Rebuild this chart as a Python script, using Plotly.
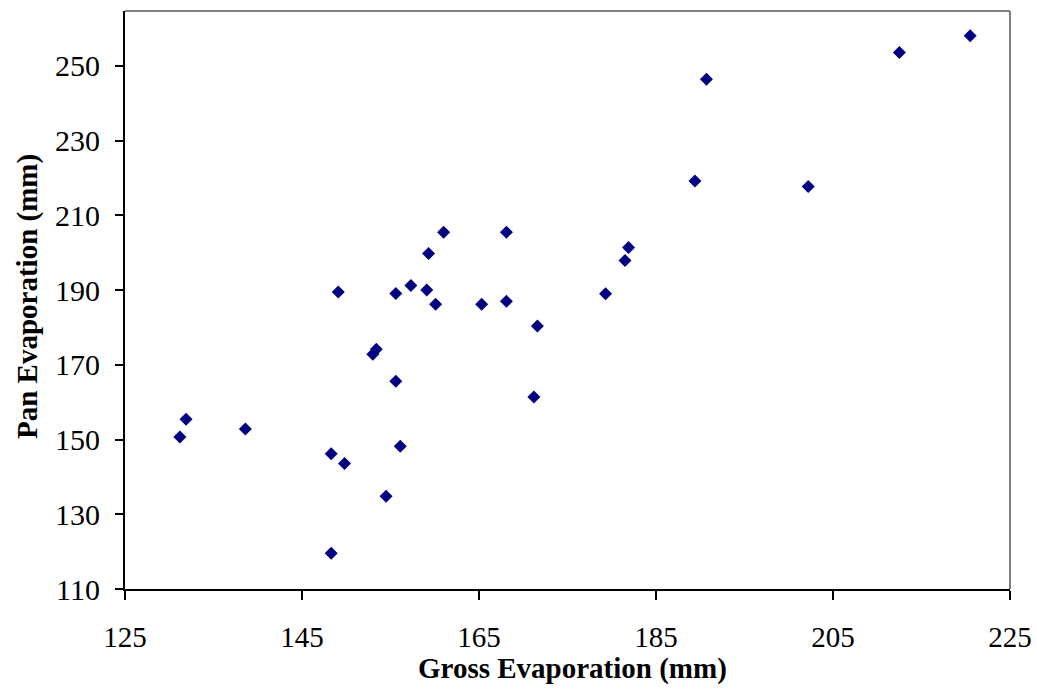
import plotly.graph_objects as go

gross_evaporation = [131.2, 131.9, 138.6, 148.3, 148.3, 149.1, 149.8, 153.0, 153.4, 154.5,
                     155.6, 155.6, 156.1, 157.3, 159.1, 159.3, 160.1, 161.0, 165.3, 168.1,
                     168.1, 171.6, 171.2, 179.3, 181.5, 181.9, 189.4, 190.7, 202.2, 212.5, 220.5]
pan_evaporation = [150.7, 155.4, 152.8, 146.2, 119.6, 189.5, 143.6, 172.8, 174.2, 134.8,
                   165.6, 189.1, 148.2, 191.2, 190.0, 199.8, 186.2, 205.5, 186.2, 205.5,
                   187.0, 180.4, 161.4, 189.0, 197.9, 201.4, 219.2, 246.4, 217.7, 253.6, 258.1]

x_ticks = [125, 145, 165, 185, 205, 225]
y_ticks = [110, 130, 150, 170, 190, 210, 230, 250]
x_title = "Gross Evaporation (mm)"
y_title = "Pan Evaporation (mm)"

FONT = "Liberation Serif, Times New Roman, serif"

fig = go.Figure()
fig.add_trace(go.Scatter(
    x=gross_evaporation, y=pan_evaporation, mode="markers",
    marker=dict(symbol="diamond", size=10, color="#000080", line=dict(width=0)),
    showlegend=False, cliponaxis=False,
))

fig.update_layout(
    width=1037, height=690,
    margin=dict(l=125, r=27, t=11, b=101, pad=0, autoexpand=False),
    paper_bgcolor="white", plot_bgcolor="white",
    font=dict(family=FONT, color="black"),
    xaxis=dict(range=[125, 225], tickvals=x_ticks, ticktext=[str(v) for v in x_ticks],
               automargin=False,
               showgrid=False, zeroline=False, showline=True, linecolor="black", linewidth=2,
               ticks="outside", ticklen=9, tickwidth=1.5, tickcolor="black",
               tickfont=dict(family=FONT, size=29, color="black"), ticklabelstandoff=12),
    yaxis=dict(range=[110, 264.7], tickvals=y_ticks, ticktext=[str(v) for v in y_ticks],
               automargin=False,
               showgrid=False, zeroline=False, showline=True, linecolor="black", linewidth=2,
               ticks="outside", ticklen=8, tickwidth=1.5, tickcolor="black",
               tickfont=dict(family=FONT, size=30, color="black"), ticklabelstandoff=9),
    shapes=[
        dict(type="line", xref="paper", yref="paper", x0=0, x1=1, y0=1, y1=1,
             line=dict(color="#808080", width=2)),
        dict(type="line", xref="paper", yref="paper", x0=1, x1=1, y0=0, y1=1,
             line=dict(color="#808080", width=2)),
    ],
    annotations=[
        dict(text="<b>" + x_title + "</b>", xref="paper", yref="paper",
             x=(572 - 125) / 885, y=(589 - 668) / 578, xanchor="center", yanchor="middle",
             showarrow=False, font=dict(family=FONT, size=29, color="black")),
        dict(text="<b>" + y_title + "</b>", xref="paper", yref="paper", textangle=-90,
             x=(27 - 125) / 885, y=(589 - 297) / 578, xanchor="center", yanchor="middle",
             showarrow=False, font=dict(family=FONT, size=29, color="black")),
    ],
)

fig.write_html("out.html", config={"displayModeBar": False},
               post_script="document.body.style.margin='0px';document.body.style.overflow='hidden';")
